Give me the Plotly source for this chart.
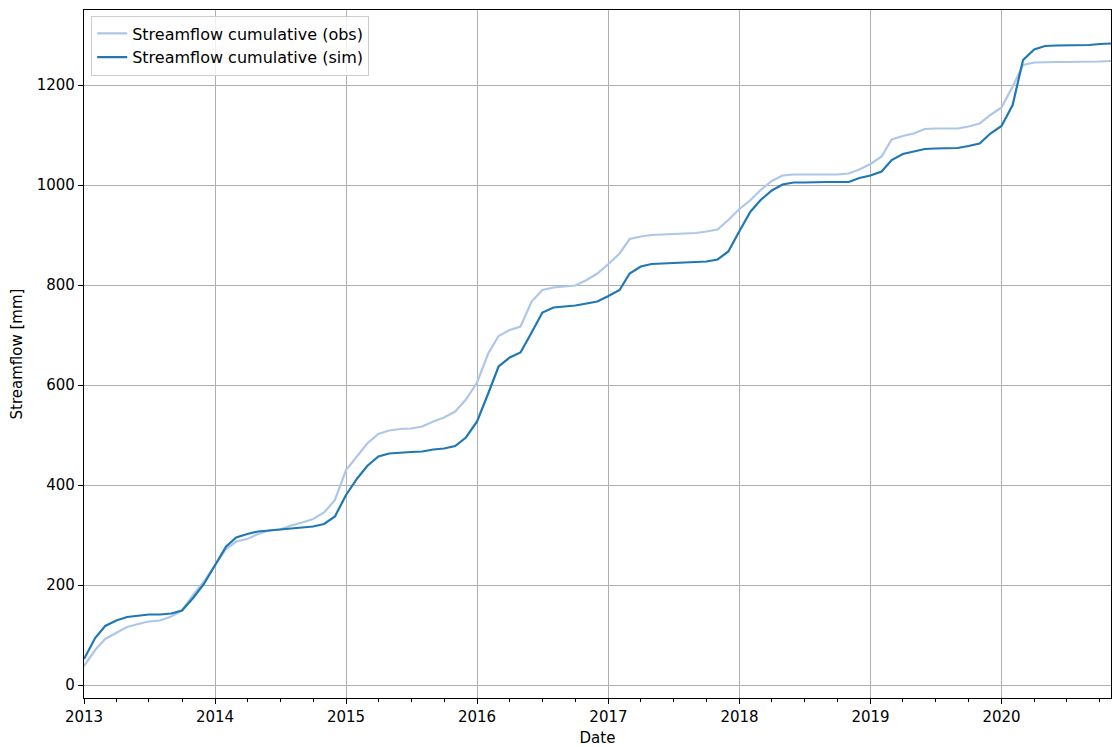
import pandas as pd
import plotly.graph_objects as go

# Monthly cumulative streamflow, Jan 2013 – Nov 2020
start_month = "2013-01-01"
n_months = 95
dates = pd.date_range(start_month, periods=n_months, freq="MS")

obs_cum = [
    38, 70, 92, 104, 116, 122, 127, 129, 137, 149, 180, 207,
    240, 272, 287, 292, 302, 309, 311, 319, 325, 332, 345, 370,
    430, 458, 483, 502, 509, 512, 513, 517, 527, 535, 547, 571,
    605, 663, 698, 710, 717, 767, 790, 795, 797, 799, 810, 823,
    842, 863, 892, 897, 900, 901, 902, 903, 904, 907, 911, 930,
    952, 970, 990, 1008, 1019, 1021, 1021, 1021, 1021, 1021, 1023, 1031,
    1042, 1057, 1091, 1098, 1103, 1112, 1113, 1113, 1113, 1117, 1123, 1140,
    1155, 1197, 1240, 1245, 1246, 1246, 1246, 1246, 1246, 1247, 1248,
]
sim_cum = [
    52, 94, 118, 129, 136, 139, 141, 141, 143, 149, 174, 202,
    240, 277, 295, 302, 307, 309, 310, 313, 315, 317, 322, 337,
    380, 413, 438, 457, 463, 465, 466, 467, 471, 473, 478, 495,
    527, 583, 637, 655, 665, 705, 745, 755, 757, 759, 763, 767,
    778, 790, 823, 837, 842, 843, 845, 845, 846, 847, 851, 867,
    908, 947, 970, 989, 1001, 1005, 1005, 1006, 1006, 1006, 1006, 1014,
    1019, 1027, 1050, 1062, 1067, 1072, 1073, 1073, 1074, 1078, 1083, 1103,
    1118, 1160, 1250, 1271, 1278, 1279, 1279, 1279, 1280, 1282, 1283,
]

y_ticks = [0, 200, 400, 600, 800, 1000, 1200]

FONT = "DejaVu Sans"

fig = go.Figure()
fig.add_trace(go.Scatter(
    x=dates, y=obs_cum, mode="lines", name="Streamflow cumulative (obs)",
    line=dict(color="#aec7e8", width=2.2),
))
fig.add_trace(go.Scatter(
    x=dates, y=sim_cum, mode="lines", name="Streamflow cumulative (sim)",
    line=dict(color="#1f77b4", width=2.2),
))

axis_common = dict(
    showline=True, linecolor="black", linewidth=1.2, mirror=True,
    ticks="outside", ticklen=5, tickwidth=1.2, tickcolor="black",
    showgrid=True, gridcolor="#b0b0b0", gridwidth=1,
    zeroline=False,
    tickfont=dict(family=FONT, size=15, color="black"),
)

fig.update_xaxes(
    **axis_common,
    range=[dates[0], dates[-1]],
    dtick="M12", tick0="2013-01-01", tickformat="%Y",
    minor=dict(dtick="M3", ticks="outside", ticklen=3, tickcolor="black",
               tickwidth=1, showgrid=False),
    title=dict(text="Date", font=dict(family=FONT, size=15, color="black"),
               standoff=8),
)
fig.update_yaxes(
    **axis_common,
    range=[-26, 1350],
    tickvals=y_ticks,
    title=dict(text="Streamflow [mm]", font=dict(family=FONT, size=15, color="black"),
               standoff=10),
)

fig.update_layout(
    width=1112, height=747,
    margin=dict(l=84, r=1, t=10, b=49),
    plot_bgcolor="white", paper_bgcolor="white",
    font=dict(family=FONT, size=15, color="black"),
    legend=dict(
        x=0.007, y=0.992, xanchor="left", yanchor="top",
        bgcolor="rgba(255,255,255,0.8)", bordercolor="#cccccc", borderwidth=1,
        font=dict(family=FONT, size=16, color="black"),
        tracegroupgap=0,
    ),
)

fig.write_html("out.html")
